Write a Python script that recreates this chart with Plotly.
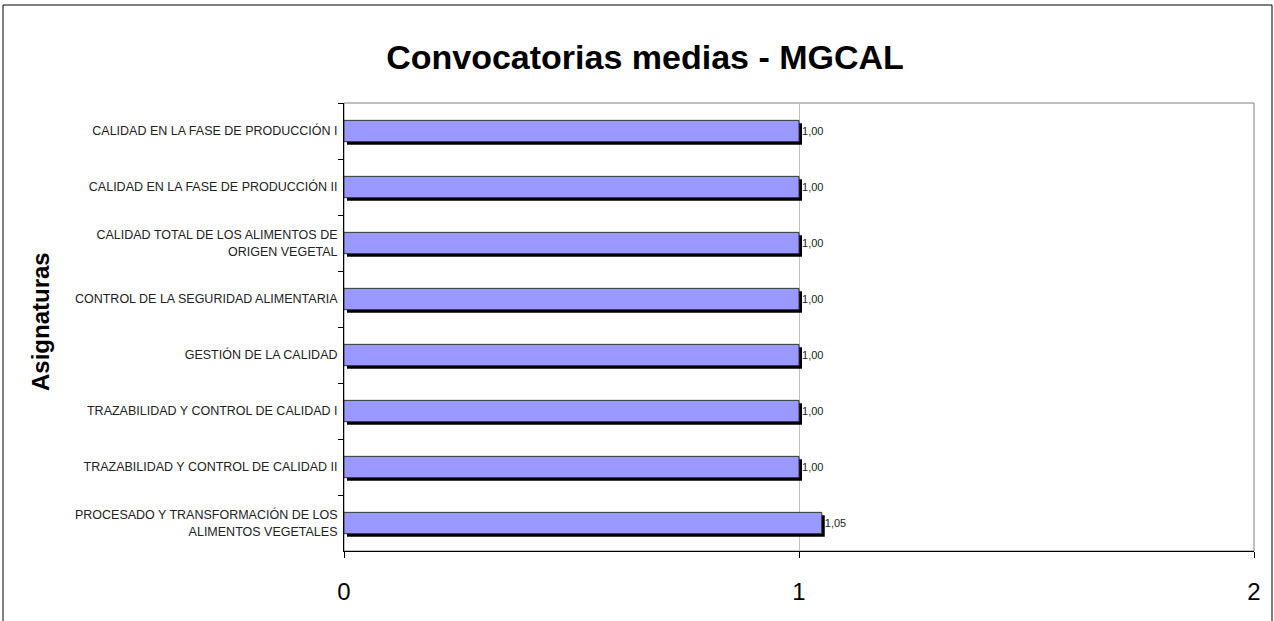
import plotly.graph_objects as go

# Convocatorias medias por asignatura (MGCAL)
asignaturas = [
    "CALIDAD EN LA FASE DE PRODUCCIÓN I",
    "CALIDAD EN LA FASE DE PRODUCCIÓN II",
    "CALIDAD TOTAL DE LOS ALIMENTOS DE<br>ORIGEN VEGETAL",
    "CONTROL DE LA SEGURIDAD ALIMENTARIA",
    "GESTIÓN DE LA CALIDAD",
    "TRAZABILIDAD Y CONTROL DE CALIDAD I",
    "TRAZABILIDAD Y CONTROL DE CALIDAD II",
    "PROCESADO Y TRANSFORMACIÓN DE LOS<br>ALIMENTOS VEGETALES",
]
convocatorias = [1.00, 1.00, 1.00, 1.00, 1.00, 1.00, 1.00, 1.05]
x_ticks = [0, 1, 2]

W, H = 1274, 621
ML, MR, MT, MB = 344, 20, 103, 70
pw, ph = W - ML - MR, H - MT - MB

bar_w = 0.38
# shadow offsets (pixels -> axis units)
dx = 3 / (pw / 2)
dy = 3 / (ph / len(asignaturas))

fig = go.Figure()

# black drop shadow behind each bar
fig.add_trace(go.Bar(
    y=asignaturas, x=convocatorias, base=dx, orientation="h",
    width=bar_w, offset=-bar_w / 2 + dy,
    marker=dict(color="black", line=dict(width=0)),
    hoverinfo="skip", showlegend=False,
))

fig.add_trace(go.Bar(
    y=asignaturas, x=convocatorias, orientation="h",
    width=bar_w, offset=-bar_w / 2,
    marker=dict(color="#9999FF", line=dict(color="#333333", width=1)),
    texttemplate="%{x:.2f}", textposition="outside", cliponaxis=False,
    textfont=dict(family="Liberation Sans, Arial", size=11, color="#222222"),
    showlegend=False,
))

fig.update_layout(
    width=W, height=H,
    margin=dict(l=ML, r=MR, t=MT, b=MB),
    paper_bgcolor="white", plot_bgcolor="white",
    barmode="overlay",
    separators=",.",
    font=dict(family="Liberation Sans, Arial", color="black"),
    title=dict(
        text="<b>Convocatorias medias - MGCAL</b>",
        x=645 / W, xanchor="center", y=1 - 57 / H, yanchor="middle",
        font=dict(size=34, color="black"),
    ),
    xaxis=dict(
        range=[0, 2], tickvals=x_ticks, ticktext=[str(v) for v in x_ticks],
        showgrid=True, gridcolor="#c0c0c0", gridwidth=1,
        showline=True, linecolor="black", linewidth=1,
        ticks="outside", ticklen=6, tickcolor="black",
        tickfont=dict(size=24), ticklabelstandoff=13,
        zeroline=False, fixedrange=True,
    ),
    yaxis=dict(
        categoryorder="array", categoryarray=asignaturas,
        autorange="reversed",
        showline=True, linecolor="black", linewidth=1,
        ticks="outside", ticklen=5, tickcolor="black",
        tickson="boundaries", showgrid=False,
        tickfont=dict(size=12.5, color="#222222"),
        ticklabelstandoff=3,
        fixedrange=True,
    ),
    shapes=[
        # plot area frame (gray)
        dict(type="rect", xref="paper", yref="paper", x0=0, x1=1, y0=0, y1=1,
             line=dict(color="#808080", width=1), layer="below"),
        # outer chart border
        dict(type="rect", xref="paper", yref="paper",
             x0=(3 - ML) / pw, x1=(1272 - ML) / pw,
             y0=-(H + 20 - (H - MB)) / ph, y1=1 + (MT - 5) / ph,
             line=dict(color="black", width=1)),
    ],
    annotations=[
        dict(text="<b>Asignaturas</b>", xref="paper", yref="paper",
             x=(40 - ML) / pw, y=(H - MB - 322) / ph, textangle=-90,
             showarrow=False, xanchor="center", yanchor="middle",
             font=dict(size=24, color="black")),
    ],
)

# page has a default body margin; remove it so the chart fills the window
fig.write_html(
    "out.html",
    config={"displayModeBar": False},
    post_script="document.body.style.margin='0';"
                "document.body.style.overflow='hidden';",
)
